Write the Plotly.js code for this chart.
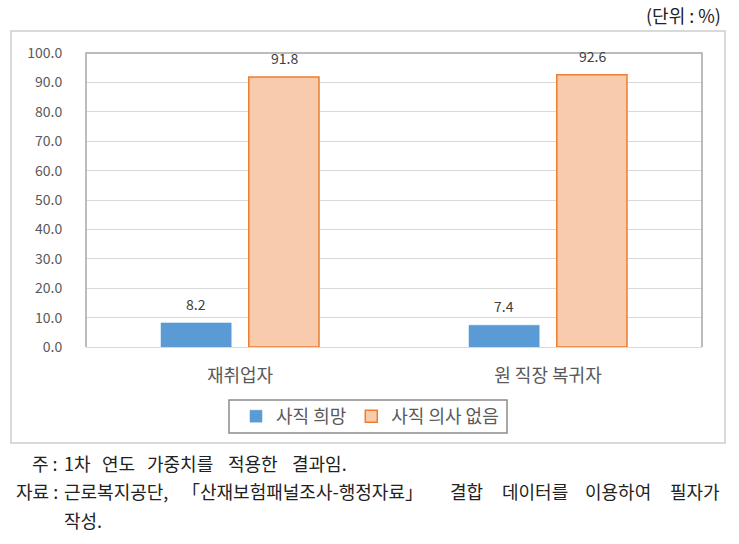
<!DOCTYPE html>
<html>
<head>
<meta charset="utf-8">
<script src="https://cdn.plot.ly/plotly-3.0.1.min.js"></script>
<style>
html,body{margin:0;padding:0;background:#fff;}
#chart{width:739px;height:544px;}
</style>
</head>
<body>
<div id="chart"></div>
<script>
// Data
const categories = ['재취업자', '원 직장 복귀자'];
const seriesNames = ['사직 희망', '사직 의사 없음'];
const quitWish = [8.2, 7.4];
const noQuitIntent = [91.8, 92.6];
const yTickVals = [0, 10, 20, 30, 40, 50, 60, 70, 80, 90, 100];
const unitText = '(단위 : %)';
const noteLabels = ['주 :', '자료 :', ''];
const noteWords = [
  ['1차', '연도', '가중치를', '적용한', '결과임.'],
  ['근로복지공단,', '「산재보험패널조사-행정자료」', '결합', '데이터를', '이용하여', '필자가'],
  ['작성.']
];

const W = 739, H = 544;
const L = 86, R = 702, T = 53, B = 347;
const pw = R - L, ph = B - T;
const px = v => (v - L) / pw;
const py = v => (B - v) / ph;

const KFONT = '"Malgun Gothic", "Noto Sans CJK KR", sans-serif';
const SFONT = '"Noto Sans CJK KR", serif';

const traces = [
  {type: 'bar', name: seriesNames[0], x: categories, y: quitWish,
   marker: {color: '#5B9BD5', line: {color: '#5B9BD5', width: 0.5}}, hoverinfo: 'none'},
  {type: 'bar', name: seriesNames[1], x: categories, y: noQuitIntent,
   marker: {color: '#F8CBAD', line: {color: '#ED7D31', width: 1.5}}, hoverinfo: 'none'}
];

const annotations = [];
[quitWish, noQuitIntent].forEach((arr, si) => {
  arr.forEach((v, i) => {
    annotations.push({xref: 'x', yref: 'y', x: categories[i], y: v, text: v.toFixed(1),
      showarrow: false, yanchor: 'bottom', yshift: 7, xshift: si === 0 ? -44 : 44,
      font: {family: KFONT, size: 14, color: '#404040'}});
  });
});
annotations.push({xref: 'paper', yref: 'paper', x: px(723), y: py(15), xanchor: 'right', yanchor: 'middle',
  text: unitText, showarrow: false, font: {family: SFONT, size: 18, color: '#222'}});
const noteY = [463, 491, 520];
const wordX = [[62, 100, 145, 226, 290], [62, 180, 448, 500, 583, 668], [62]];
noteWords.forEach((words, i) => {
  if (noteLabels[i]) annotations.push({xref: 'paper', yref: 'paper', x: px(60), y: py(noteY[i]),
    xanchor: 'right', yanchor: 'middle', text: noteLabels[i], showarrow: false,
    font: {family: SFONT, size: 18, color: '#222'}});
  words.forEach((w, j) => {
    annotations.push({xref: 'paper', yref: 'paper', x: px(wordX[i][j]), y: py(noteY[i]),
      xanchor: 'left', yanchor: 'middle', text: w, showarrow: false,
      font: {family: SFONT, size: 18, color: '#222'}});
  });
});

const layout = {
  width: W, height: H,
  margin: {l: L, r: W - R, t: T, b: H - B, pad: 0},
  paper_bgcolor: '#fff', plot_bgcolor: '#fff',
  barmode: 'group', bargap: 0.43, bargroupgap: 0.2,
  showlegend: true,
  legend: {orientation: 'h', x: px(370), xanchor: 'center', y: py(416.5), yanchor: 'middle',
    borderwidth: 0, bgcolor: 'rgba(0,0,0,0)', font: {family: KFONT, size: 18, color: '#595959'},
    itemwidth: 30, traceorder: 'normal'},
  xaxis: {type: 'category', showline: true, linecolor: '#d9d9d9', linewidth: 1,
    ticks: 'outside', ticklen: 12, tickcolor: 'rgba(0,0,0,0)',
    tickfont: {family: KFONT, size: 18, color: '#595959'}, showgrid: false, fixedrange: true},
  yaxis: {range: [0, 100], tickvals: yTickVals, tickformat: '.1f', showgrid: true, gridcolor: '#d9d9d9',
    gridwidth: 1, zeroline: false, showline: false, ticks: 'outside', ticklen: 20, tickcolor: 'rgba(0,0,0,0)',
    tickfont: {family: KFONT, size: 14, color: '#595959'}, fixedrange: true},
  shapes: [
    {type: 'rect', xref: 'paper', yref: 'paper', x0: px(11), x1: px(725), y0: py(443), y1: py(31),
     line: {color: '#d9d9d9', width: 2}, layer: 'below'},
    {type: 'path', xref: 'paper', yref: 'paper', path: 'M0,0 L0,1 L1,1 L1,0',
     line: {color: '#a6a6a6', width: 1.5}, layer: 'above'},
    {type: 'rect', xref: 'paper', yref: 'paper', x0: px(229), x1: px(507), y0: py(433), y1: py(400),
     line: {color: '#8c8c8c', width: 1.5}, layer: 'below'}
  ],
  annotations: annotations
};

Plotly.newPlot('chart', traces, layout, {displayModeBar: false, staticPlot: true});
</script>
</body>
</html>
